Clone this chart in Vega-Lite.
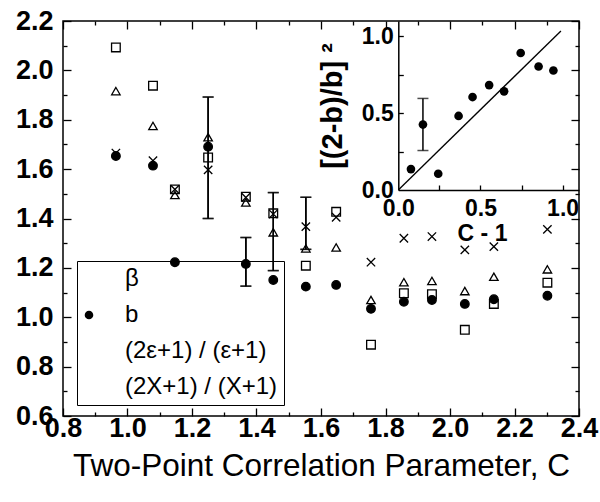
{
  "$schema": "https://vega.github.io/schema/vega-lite/v6.json",
  "width": 516,
  "height": 395,
  "autosize": "none",
  "padding": {"left": 63, "top": 21, "right": 21, "bottom": 86},
  "config": {
    "font": "Liberation Sans",
    "view": {"stroke": "black", "strokeWidth": 1.5},
    "axis": {"grid": false, "labelColor": "black", "titleColor": "black", "tickColor": "black", "domainColor": "black", "tickWidth": 1.3, "domainWidth": 1.5, "labelFontWeight": "bold", "labelFont": "Liberation Sans", "titleFont": "Liberation Sans", "labelOverlap": false, "labelFlush": false}
  },
  "datasets": {
    "main": [
      {"C": 0.964, "series": "β", "v": 2.093},
      {"C": 1.079, "series": "β", "v": 1.938},
      {"C": 1.147, "series": "β", "v": 1.518},
      {"C": 1.25, "series": "β", "v": 1.647},
      {"C": 1.367, "series": "β", "v": 1.488},
      {"C": 1.452, "series": "β", "v": 1.421},
      {"C": 1.553, "series": "β", "v": 1.209},
      {"C": 1.647, "series": "β", "v": 1.427},
      {"C": 1.755, "series": "β", "v": 0.889},
      {"C": 1.857, "series": "β", "v": 1.097},
      {"C": 1.944, "series": "β", "v": 1.093},
      {"C": 2.046, "series": "β", "v": 0.949},
      {"C": 2.136, "series": "β", "v": 1.054},
      {"C": 2.302, "series": "β", "v": 1.14},
      {"C": 0.964, "series": "b", "v": 1.653},
      {"C": 1.079, "series": "b", "v": 1.614},
      {"C": 1.147, "series": "b", "v": 1.223},
      {"C": 1.25, "series": "b", "v": 1.691},
      {"C": 1.367, "series": "b", "v": 1.216},
      {"C": 1.452, "series": "b", "v": 1.151},
      {"C": 1.553, "series": "b", "v": 1.124},
      {"C": 1.647, "series": "b", "v": 1.131},
      {"C": 1.755, "series": "b", "v": 1.034},
      {"C": 1.857, "series": "b", "v": 1.063},
      {"C": 1.944, "series": "b", "v": 1.07},
      {"C": 2.046, "series": "b", "v": 1.054},
      {"C": 2.136, "series": "b", "v": 1.073},
      {"C": 2.302, "series": "b", "v": 1.087},
      {"C": 0.964, "series": "(2ε+1) / (ε+1)", "v": 1.916},
      {"C": 1.079, "series": "(2ε+1) / (ε+1)", "v": 1.775},
      {"C": 1.147, "series": "(2ε+1) / (ε+1)", "v": 1.495},
      {"C": 1.25, "series": "(2ε+1) / (ε+1)", "v": 1.729},
      {"C": 1.367, "series": "(2ε+1) / (ε+1)", "v": 1.465},
      {"C": 1.452, "series": "(2ε+1) / (ε+1)", "v": 1.344},
      {"C": 1.553, "series": "(2ε+1) / (ε+1)", "v": 1.279},
      {"C": 1.647, "series": "(2ε+1) / (ε+1)", "v": 1.283},
      {"C": 1.755, "series": "(2ε+1) / (ε+1)", "v": 1.07},
      {"C": 1.857, "series": "(2ε+1) / (ε+1)", "v": 1.142},
      {"C": 1.944, "series": "(2ε+1) / (ε+1)", "v": 1.147},
      {"C": 2.046, "series": "(2ε+1) / (ε+1)", "v": 1.106},
      {"C": 2.136, "series": "(2ε+1) / (ε+1)", "v": 1.164},
      {"C": 2.302, "series": "(2ε+1) / (ε+1)", "v": 1.194},
      {"C": 0.964, "series": "(2X+1) / (X+1)", "v": 1.665},
      {"C": 1.079, "series": "(2X+1) / (X+1)", "v": 1.634},
      {"C": 1.147, "series": "(2X+1) / (X+1)", "v": 1.518},
      {"C": 1.25, "series": "(2X+1) / (X+1)", "v": 1.597},
      {"C": 1.367, "series": "(2X+1) / (X+1)", "v": 1.485},
      {"C": 1.452, "series": "(2X+1) / (X+1)", "v": 1.418},
      {"C": 1.553, "series": "(2X+1) / (X+1)", "v": 1.367},
      {"C": 1.647, "series": "(2X+1) / (X+1)", "v": 1.405},
      {"C": 1.755, "series": "(2X+1) / (X+1)", "v": 1.223},
      {"C": 1.857, "series": "(2X+1) / (X+1)", "v": 1.32},
      {"C": 1.944, "series": "(2X+1) / (X+1)", "v": 1.327},
      {"C": 2.046, "series": "(2X+1) / (X+1)", "v": 1.273},
      {"C": 2.136, "series": "(2X+1) / (X+1)", "v": 1.286},
      {"C": 2.302, "series": "(2X+1) / (X+1)", "v": 1.356}
    ],
    "mainErr": [
      {"C": 1.25, "lo": 1.4, "hi": 1.892},
      {"C": 1.367, "lo": 1.126, "hi": 1.323},
      {"C": 1.452, "lo": 1.189, "hi": 1.505},
      {"C": 1.553, "lo": 1.275, "hi": 1.486}
    ],
    "inset": [
      {"x": 0.077, "y": 0.136},
      {"x": 0.15, "y": 0.426},
      {"x": 0.243, "y": 0.106},
      {"x": 0.367, "y": 0.482},
      {"x": 0.452, "y": 0.605},
      {"x": 0.553, "y": 0.683},
      {"x": 0.644, "y": 0.642},
      {"x": 0.745, "y": 0.892},
      {"x": 0.854, "y": 0.804},
      {"x": 0.944, "y": 0.778}
    ],
    "insetErr": [{"x": 0.15, "lo": 0.257, "hi": 0.596}],
    "fit": [{"x": 0, "y": 0}, {"x": 0.99, "y": 1.035}]
  },
  "layer": [
    {
      "layer": [
        {
          "data": {"name": "mainErr"},
          "mark": {"type": "rule", "color": "black", "strokeWidth": 1.5},
          "encoding": {
            "x": {"field": "C", "type": "quantitative",
              "scale": {"domain": [0.8, 2.4], "nice": false, "zero": false},
              "axis": {"orient": "bottom", "offset": -395, "title": null, "labels": false, "domain": false, "ticks": true,
                "values": [0.8,1.0,1.2,1.4,1.6,1.8,2.0,2.2,2.4], "tickSize": 8}},
            "y": {"field": "lo", "type": "quantitative",
              "scale": {"domain": [0.6, 2.2], "nice": false, "zero": false},
              "axis": {"orient": "left", "offset": -516, "title": null, "labels": false, "domain": false, "ticks": true,
                "values": [0.6,0.8,1.0,1.2,1.4,1.6,1.8,2.0,2.2], "tickSize": 8}},
            "y2": {"field": "hi"}
          }
        },
        {
          "data": {"name": "mainErr"},
          "mark": {"type": "rule", "color": "black", "strokeWidth": 1.5},
          "encoding": {
            "x": {"field": "C", "type": "quantitative",
              "axis": {"orient": "bottom", "offset": -395, "title": null, "labels": false, "domain": false, "ticks": true,
                "values": [0.9,1.1,1.3,1.5,1.7,1.9,2.1,2.3], "tickSize": 4}},
            "y": {"field": "lo", "type": "quantitative",
              "axis": {"orient": "left", "offset": -516, "title": null, "labels": false, "domain": false, "ticks": true,
                "values": [0.7,0.9,1.1,1.3,1.5,1.7,1.9,2.1], "tickSize": 4}},
            "y2": {"field": "hi"}
          }
        },
        {
          "data": {"name": "mainErr"},
          "transform": [{"fold": ["lo", "hi"], "as": ["end", "val"]}],
          "mark": {"type": "tick", "orient": "horizontal", "size": 11, "thickness": 1.5, "color": "black"},
          "encoding": {
            "x": {"field": "C", "type": "quantitative",
              "axis": {"orient": "top", "offset": -395, "title": null, "labels": false, "domain": false, "ticks": true,
                "values": [0.8,1.0,1.2,1.4,1.6,1.8,2.0,2.2,2.4], "tickSize": 8}},
            "y": {"field": "val", "type": "quantitative",
              "axis": {"orient": "right", "offset": -516, "title": null, "labels": false, "domain": false, "ticks": true,
                "values": [0.6,0.8,1.0,1.2,1.4,1.6,1.8,2.0,2.2], "tickSize": 8}}
          }
        },
        {
          "data": {"name": "mainErr"},
          "transform": [{"fold": ["lo", "hi"], "as": ["end", "val"]}],
          "mark": {"type": "tick", "orient": "horizontal", "size": 11, "thickness": 1.5, "color": "black"},
          "encoding": {
            "x": {"field": "C", "type": "quantitative",
              "axis": {"orient": "top", "offset": -395, "title": null, "labels": false, "domain": false, "ticks": true,
                "values": [0.9,1.1,1.3,1.5,1.7,1.9,2.1,2.3], "tickSize": 4}},
            "y": {"field": "val", "type": "quantitative",
              "axis": {"orient": "right", "offset": -516, "title": null, "labels": false, "domain": false, "ticks": true,
                "values": [0.7,0.9,1.1,1.3,1.5,1.7,1.9,2.1], "tickSize": 4}}
          }
        },
        {
          "data": {"name": "main"},
          "mark": {"type": "point", "stroke": "black", "strokeWidth": 1.3, "opacity": 1},
          "encoding": {
            "x": {"field": "C", "type": "quantitative",
              "axis": {"orient": "bottom", "domain": false, "ticks": false,
                "values": [0.8,1.0,1.2,1.4,1.6,1.8,2.0,2.2,2.4],
                "format": ".1f",
                "labelFontSize": 27, "labelPadding": -1,
                "title": "Two-Point Correlation Parameter, C", "titleFontSize": 31.5, "titleFontWeight": "normal", "titlePadding": 9}},
            "y": {"field": "v", "type": "quantitative",
              "axis": {"orient": "left", "domain": false, "title": null, "ticks": false,
                "values": [0.6,0.8,1.0,1.2,1.4,1.6,1.8,2.0,2.2],
                "format": ".1f",
                "labelFontSize": 27, "labelPadding": 10}},
            "shape": {"field": "series", "type": "nominal",
              "scale": {"domain": ["β", "b", "(2ε+1) / (ε+1)", "(2X+1) / (X+1)"],
                "range": ["square", "circle", "triangle-up", "M-1,-1L1,1M-1,1L1,-1"]},
              "legend": {"title": null, "orient": "none", "legendX": 14, "legendY": 240,
                "strokeColor": "black", "padding": 6, "labelFontSize": 24, "labelFont": "Liberation Sans",
                "labelColor": "black", "labelOffset": 24, "symbolOffset": -6, "rowPadding": 12,
                "symbolStrokeColor": "black", "symbolStrokeWidth": 1.3,
                "encode": {"symbols": {"update": {"stroke": {"value": "black"}, "strokeWidth": {"value": 1.3}}}}}},
            "fill": {"field": "series", "type": "nominal",
              "scale": {"domain": ["β", "b", "(2ε+1) / (ε+1)", "(2X+1) / (X+1)"],
                "range": ["transparent", "black", "transparent", "transparent"]},
              "legend": {"title": null, "orient": "none", "legendX": 14, "legendY": 240,
                "strokeColor": "black", "padding": 6, "labelFontSize": 24, "labelFont": "Liberation Sans",
                "labelColor": "black", "labelOffset": 24, "symbolOffset": -6, "rowPadding": 12,
                "symbolStrokeColor": "black", "symbolStrokeWidth": 1.3,
                "encode": {"symbols": {"update": {"stroke": {"value": "black"}, "strokeWidth": {"value": 1.3}}}}}},
            "size": {"field": "series", "type": "nominal",
              "scale": {"domain": ["β", "b", "(2ε+1) / (ε+1)", "(2X+1) / (X+1)"],
                "range": [75, 70, 130, 85]},
              "legend": {"title": null, "orient": "none", "legendX": 14, "legendY": 240,
                "strokeColor": "black", "padding": 6, "labelFontSize": 24, "labelFont": "Liberation Sans",
                "labelColor": "black", "labelOffset": 24, "symbolOffset": -6, "rowPadding": 12,
                "symbolStrokeColor": "black", "symbolStrokeWidth": 1.3,
                "encode": {"symbols": {"update": {"stroke": {"value": "black"}, "strokeWidth": {"value": 1.3}}}}}}
          }
        }
      ],
      "resolve": {"axis": {"x": "independent", "y": "independent"}}
    },
    {
      "layer": [
        {
          "data": {"name": "inset"},
          "mark": {"type": "circle", "color": "black", "size": 75, "opacity": 1},
          "encoding": {
            "x": {"field": "x", "type": "quantitative",
              "scale": {"domain": [0, 1.1], "range": [335.3, 516], "nice": false, "zero": false},
              "axis": {"orient": "bottom", "offset": -226, "domain": true, "ticks": false,
                "values": [0, 0.5, 1.0], "format": ".1f",
                "labelFontSize": 23, "labelPadding": 7,
                "title": "C - 1", "titleFontSize": 23, "titleFontWeight": "bold", "titlePadding": 2,
                "titleX": 419, "titleAlign": "center"}},
            "y": {"field": "y", "type": "quantitative",
              "scale": {"domain": [0, 1.1], "range": [169, 0], "nice": false, "zero": false},
              "axis": {"orient": "left", "offset": -335.3, "domain": true, "ticks": false,
                "values": [0, 0.5, 1.0], "format": ".1f",
                "labelFontSize": 23, "labelPadding": 5,
                "title": "[(2-b)/b] ²", "titleFontSize": 29, "titleFontWeight": "bold", "titlePadding": 14}}
          }
        },
        {
          "data": {"name": "fit"},
          "mark": {"type": "line", "color": "black", "strokeWidth": 1.3},
          "encoding": {
            "x": {"field": "x", "type": "quantitative",
              "axis": {"orient": "top", "offset": -169, "title": null, "labels": false, "domain": false, "ticks": true,
                "values": [0.25, 0.5, 0.75, 1.0], "tickSize": 5}},
            "y": {"field": "y", "type": "quantitative",
              "axis": {"orient": "right", "offset": -180.7, "title": null, "labels": false, "domain": false, "ticks": true,
                "values": [0.25, 0.5, 0.75, 1.0], "tickSize": 5}}
          }
        },
        {
          "data": {"name": "insetErr"},
          "mark": {"type": "rule", "color": "black", "strokeWidth": 1.5},
          "encoding": {
            "x": {"field": "x", "type": "quantitative", "axis": null},
            "y": {"field": "lo", "type": "quantitative", "axis": null},
            "y2": {"field": "hi"}
          }
        },
        {
          "data": {"name": "insetErr"},
          "transform": [{"fold": ["lo", "hi"], "as": ["end", "val"]}],
          "mark": {"type": "tick", "orient": "horizontal", "size": 11, "thickness": 1.5, "color": "black"},
          "encoding": {
            "x": {"field": "x", "type": "quantitative", "axis": null},
            "y": {"field": "val", "type": "quantitative", "axis": null}
          }
        }
      ],
      "resolve": {"axis": {"x": "independent", "y": "independent"}}
    }
  ],
  "resolve": {"scale": {"x": "independent", "y": "independent"}, "axis": {"x": "independent", "y": "independent"}}
}
